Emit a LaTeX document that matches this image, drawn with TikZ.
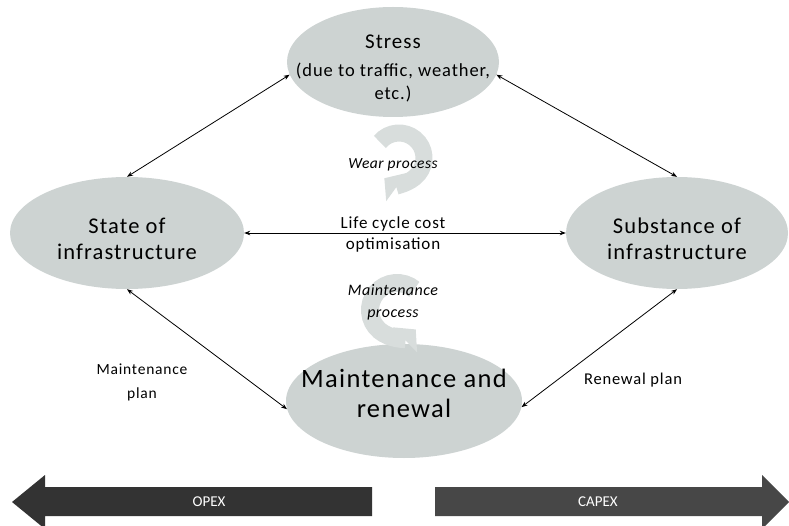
\documentclass[tikz,border=0pt]{standalone}
\usepackage{fontspec}
\setmainfont{Carlito}
\usetikzlibrary{arrows.meta,shapes.geometric}
\definecolor{ellfill}{HTML}{CDD3D2}
\definecolor{circgray}{HTML}{D8DDDC}
\definecolor{opexc}{HTML}{333333}
\definecolor{capexc}{HTML}{474747}
\begin{document}
\begin{tikzpicture}[x=1pt,y=-1pt,
  ell/.style={ellipse, fill=ellfill, draw=none, inner sep=0pt},
  bigtext/.style={align=center, inner sep=0pt, font=\fontsize{22.5}{26}\selectfont\addfontfeatures{LetterSpace=5}},
  midtext/.style={align=center, inner sep=0pt, font=\fontsize{18.5}{23}\selectfont\addfontfeatures{LetterSpace=5}},
  smalltext/.style={align=center, inner sep=0pt, font=\fontsize{15.5}{24}\selectfont\addfontfeatures{LetterSpace=5}},
  ittext/.style={align=center, inner sep=0pt, font=\fontsize{15.5}{22}\selectfont\itshape\addfontfeatures{LetterSpace=3}},
  bartext/.style={inner sep=0pt, text=white, font=\fontsize{15}{18}\selectfont},
  conn/.style={line width=0.8pt, {Stealth[length=6pt,width=4.5pt]}-{Stealth[length=6pt,width=4.5pt]}},
  circarrow/.style={line width=17pt, draw=circgray, -{Triangle[length=15pt,width=34pt]}}
]
\useasboundingbox (0,0) rectangle (789,526);

% ellipses
\node[ell, minimum width=212pt, minimum height=110pt] (stress) at (393,62) {};
\node[ell, minimum width=234pt, minimum height=112pt] (state) at (127,233) {};
\node[ell, minimum width=222pt, minimum height=112pt] (subst) at (677,233) {};
\node[ell, minimum width=236pt, minimum height=114pt] (mr) at (404,401) {};

% circular process arrows
\draw[circarrow] (399,158) ++(-140:25) arc[start angle=-140, end angle=126, radius=25];
\draw[circarrow, line width=18pt] (397,310) ++(-50:27) arc[start angle=-50, end angle=-314, radius=27];

% ellipse texts
\node[midtext] (stressT) at (393,68) {{\fontsize{21}{24}\selectfont Stress}\\[5pt](due to traffic, weather,\\etc.)};
\node[bigtext] (stateT) at (127,239) {State of\\infrastructure};
\node[bigtext] (substT) at (677,239) {Substance of\\infrastructure};
\node[bigtext, font=\fontsize{26.5}{30}\selectfont\addfontfeatures{LetterSpace=5}] (mrT) at (404,393) {Maintenance and\\renewal};

% connectors
\draw[conn] (stress.187) -- (state.north);
\draw[conn] (stress.353) -- (subst.north);
\draw[conn] (state.east) -- (subst.west);
\draw[conn] (state.south) -- (mr.184);
\draw[conn] (subst.south) -- (mr.357);

% labels
\node[smalltext, font=\fontsize{17}{21}\selectfont\addfontfeatures{LetterSpace=5}] (lcc) at (393,234) {Life cycle cost\\optimisation};
\node[ittext] (wearT) at (393,165) {Wear process};
\node[ittext, font=\fontsize{16}{22}\selectfont\itshape\addfontfeatures{LetterSpace=3}] (mpT) at (393,302) {Maintenance\\process};
\node[smalltext] (mplan) at (142,382) {Maintenance\\plan};
\node[smalltext, font=\fontsize{16.5}{24}\selectfont\addfontfeatures{LetterSpace=5}] (rplan) at (633,380) {Renewal plan};

% OPEX / CAPEX bars
\fill[opexc] (12,502) -- (45,475) -- (45,487) -- (372,487) -- (372,516) -- (45,516) -- (45,529) -- cycle;
\fill[capexc] (435,487) -- (762,487) -- (762,475) -- (789,502) -- (762,529) -- (762,516) -- (435,516) -- cycle;
\node[bartext] (opex) at (209,502) {OPEX};
\node[bartext] (capex) at (598,502) {CAPEX};
\end{tikzpicture}
\end{document}
